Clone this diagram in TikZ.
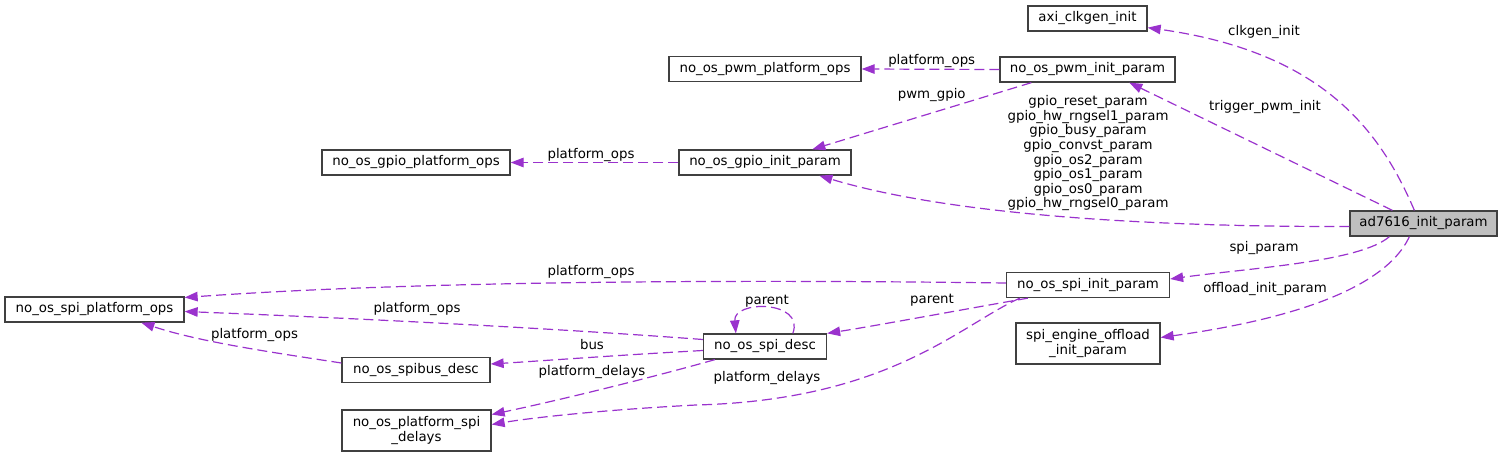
\documentclass[tikz,border=0pt]{standalone}
\usepackage{fontspec}
\setmainfont{DejaVu Sans}
\usetikzlibrary{arrows.meta,calc}
\definecolor{edgecol}{HTML}{9A32CD}
\definecolor{nodeborder}{HTML}{404040}
\definecolor{rootfill}{HTML}{BFBFBF}
\newcommand{\dfs}{\fontsize{13.33}{14.6}\selectfont}
\begin{document}
\begin{tikzpicture}[x=1pt,y=-1pt,
  box/.style={draw=nodeborder, line width=1.3pt, fill=white, inner sep=0pt, minimum height=25pt, text=black, font=\dfs, align=center},
  edge/.style={draw=edgecol, dash pattern=on 10pt off 5pt, line width=1.2pt, -{Triangle[length=13pt,width=9.5pt,fill=edgecol]}},
  lbl/.style={font=\dfs, inner sep=0pt, text=black, align=center}]
\useasboundingbox (0,0) rectangle (1503,457);
% nodes
\node[box, minimum width=119pt] (axi) at (1087.5,18.5) {axi\_clkgen\_init};
\node[box, minimum width=192pt] (pwmops) at (765,69) {no\_os\_pwm\_platform\_ops};
\node[box, minimum width=175pt] (pwm) at (1087.5,69.5) {no\_os\_pwm\_init\_param};
\node[box, minimum width=188pt] (gpioops) at (416,162.5) {no\_os\_gpio\_platform\_ops};
\node[box, minimum width=172pt] (gpio) at (765,162.5) {no\_os\_gpio\_init\_param};
\node[box, minimum width=147pt, fill=rootfill] (ad) at (1423.5,223.5) {ad7616\_init\_param};
\node[box, minimum width=163pt] (spiinit) at (1088,285) {no\_os\_spi\_init\_param};
\node[box, minimum width=179pt] (spiops) at (94.5,309.5) {no\_os\_spi\_platform\_ops};
\node[box, minimum width=144pt, minimum height=41pt] (offload) at (1088,343.5) {spi\_engine\_offload\\\_init\_param};
\node[box, minimum width=123pt] (spidesc) at (765,346.5) {no\_os\_spi\_desc};
\node[box, minimum width=148pt] (spibus) at (416,370) {no\_os\_spibus\_desc};
\node[box, minimum width=149pt, minimum height=41pt] (delays) at (416.5,430.5) {no\_os\_platform\_spi\\\_delays};
% edges
\draw[edge] ($(ad.north west)+(65,0)$) .. controls (1380,130) and (1322,52) .. ($(axi.south east)+(0,-4)$);
\node[lbl] (l1) at (1264,31.7) {clkgen\_init};
\draw[edge] ($(ad.north west)+(43,0)$) -- ($(pwm.south west)+(130,0)$);
\node[lbl] (l2) at (1265,106.7) {trigger\_pwm\_init};
\draw[edge] (pwm.west) -- (pwmops.east);
\node[lbl] (l3) at (931.7,60.7) {platform\_ops};
\draw[edge] ($(pwm.south west)+(32,0)$) -- ($(gpio.north west)+(134,0)$);
\node[lbl] (l4) at (931.7,95) {pwm\_gpio};
\draw[edge] (gpio.west) -- (gpioops.east);
\node[lbl] (l5) at (591,155) {platform\_ops};
\draw[edge] ($(ad.west)+(0,3)$) .. controls (1150,227) and (950,215) .. ($(gpio.south west)+(141,0)$);
\node[lbl, text depth=0pt] (l6) at (1088,151.7) {gpio\_reset\_param\\gpio\_hw\_rngsel1\_param\\gpio\_busy\_param\\gpio\_convst\_param\\gpio\_os2\_param\\gpio\_os1\_param\\gpio\_os0\_param\\gpio\_hw\_rngsel0\_param};
\draw[edge] ($(ad.south west)+(40,0)$) .. controls (1360,262) and (1250,268) .. ($(spiinit.east)+(0,-6)$);
\node[lbl] (l7) at (1264,248) {spi\_param};
\draw[edge] ($(ad.south west)+(60,0)$) .. controls (1380,300) and (1250,325) .. ($(offload.east)+(0,-6)$);
\node[lbl] (l8) at (1265,289) {offload\_init\_param};
\draw[edge] ($(spiinit.west)+(0,-2)$) .. controls (700,279) and (400,282) .. ($(spiops.east)+(0,-12)$);
\node[lbl] (l9) at (591,272) {platform\_ops};
\draw[edge] ($(spiinit.south west)+(22,0)$) .. controls (960,310) and (880,325) .. (spidesc.north east);
\node[lbl] (l10) at (932,300) {parent};
\draw[edge] ($(spiinit.south west)+(14,0)$) .. controls (960,325) and (890,400) .. (696,405) .. controls (600,410) and (530,418) .. ($(delays.east)+(0,-6)$);
\node[lbl] (l11) at (767,378) {platform\_delays};
\draw[edge] ($(spidesc.north west)+(90,0)$) .. controls (805,300) and (733,300) .. ($(spidesc.north west)+(33,0)$);
\node[lbl] (l12) at (767,301) {parent};
\draw[edge] ($(spidesc.west)+(0,-7)$) .. controls (550,328) and (350,318) .. ($(spiops.east)+(0,2)$);
\node[lbl] (l13) at (417,309) {platform\_ops};
\draw[edge] ($(spidesc.west)+(0,4)$) .. controls (620,355) and (540,361) .. ($(spibus.east)+(0,-6)$);
\node[lbl] (l14) at (592,345) {bus};
\draw[edge] ($(spidesc.south west)+(12,0)$) .. controls (650,378) and (560,400) .. ($(delays.east)+(0,-16)$);
\node[lbl] (l15) at (592,372) {platform\_delays};
\draw[edge] ($(spibus.west)+(0,-7)$) .. controls (270,352) and (200,342) .. ($(spiops.south west)+(137,0)$);
\node[lbl] (l16) at (254.5,335) {platform\_ops};
\end{tikzpicture}
\end{document}
